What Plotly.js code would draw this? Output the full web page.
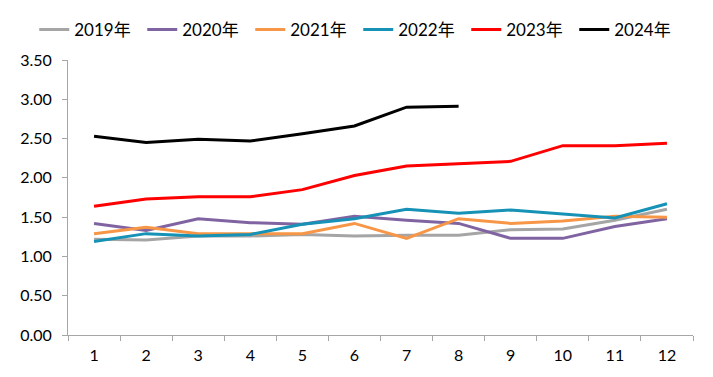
<!DOCTYPE html>
<html><head><meta charset="utf-8">
<script src="https://cdn.plot.ly/plotly-3.0.1.min.js"></script>
<style>html,body{margin:0;padding:0;background:#fff}#c{width:713px;height:377px}</style>
</head><body><div id="c"></div>
<script>
const months = ['1','2','3','4','5','6','7','8','9','10','11','12'];
const s2019 = [1.22,1.21,1.26,1.26,1.28,1.26,1.27,1.27,1.34,1.35,1.46,1.60];
const s2020 = [1.42,1.33,1.48,1.43,1.41,1.51,1.46,1.42,1.23,1.23,1.38,1.48];
const s2021 = [1.29,1.37,1.29,1.29,1.29,1.42,1.23,1.48,1.42,1.45,1.51,1.50];
const s2022 = [1.19,1.29,1.26,1.28,1.41,1.48,1.60,1.55,1.59,1.54,1.49,1.67];
const s2023 = [1.64,1.73,1.76,1.76,1.85,2.03,2.15,2.18,2.21,2.41,2.41,2.44];
const s2024 = [2.53,2.45,2.49,2.47,2.56,2.66,2.90,2.91];
const names = ['2019年','2020年','2021年','2022年','2023年','2024年'];
const colors = ['#A5A5A5','#8064A2','#F79646','#1592B5','#FF0000','#000000'];
const series = [s2019,s2020,s2021,s2022,s2023,s2024];
const traces = series.map((s,i)=>({
  x: months.slice(0,s.length), y: s, name: names[i], type:'scatter', mode:'lines',
  line:{color:colors[i], width:3}
}));
const fam = 'Lato, "Noto Sans CJK SC", sans-serif';
Plotly.newPlot('c', traces, {
  width:713, height:377,
  margin:{l:68, r:20, t:60, b:42, autoexpand:false},
  paper_bgcolor:'#fff', plot_bgcolor:'#fff',
  font: {family:fam, size:16, color:'#000'},
  showlegend:true,
  legend:{orientation:'h', x:-0.054, xanchor:'left', y:1.109, yanchor:'middle',
    font:{family:fam, size:17, color:'#000'}, entrywidth:63, traceorder:'normal'},
  xaxis:{type:'category', categoryorder:'array', categoryarray:months, automargin:false,
    showline:true, linecolor:'#A6A6A6', linewidth:1, ticks:'outside', tickson:'boundaries',
    ticklen:5, tickcolor:'#A6A6A6', showgrid:false, zeroline:false, range:[-0.5,11.5],
    ticklabelstandoff:6, tickfont:{family:fam, size:16, color:'#000'}},
  yaxis:{range:[0,3.5], dtick:0.5, tickformat:'.2f', showline:true, linecolor:'#A6A6A6', linewidth:1,
    automargin:false, ticks:'outside', ticklen:5, tickcolor:'#A6A6A6', showgrid:false, zeroline:false,
    ticklabelstandoff:7, tickfont:{family:fam, size:16, color:'#000'}}
}, {displayModeBar:false, staticPlot:true});
</script></body></html>
